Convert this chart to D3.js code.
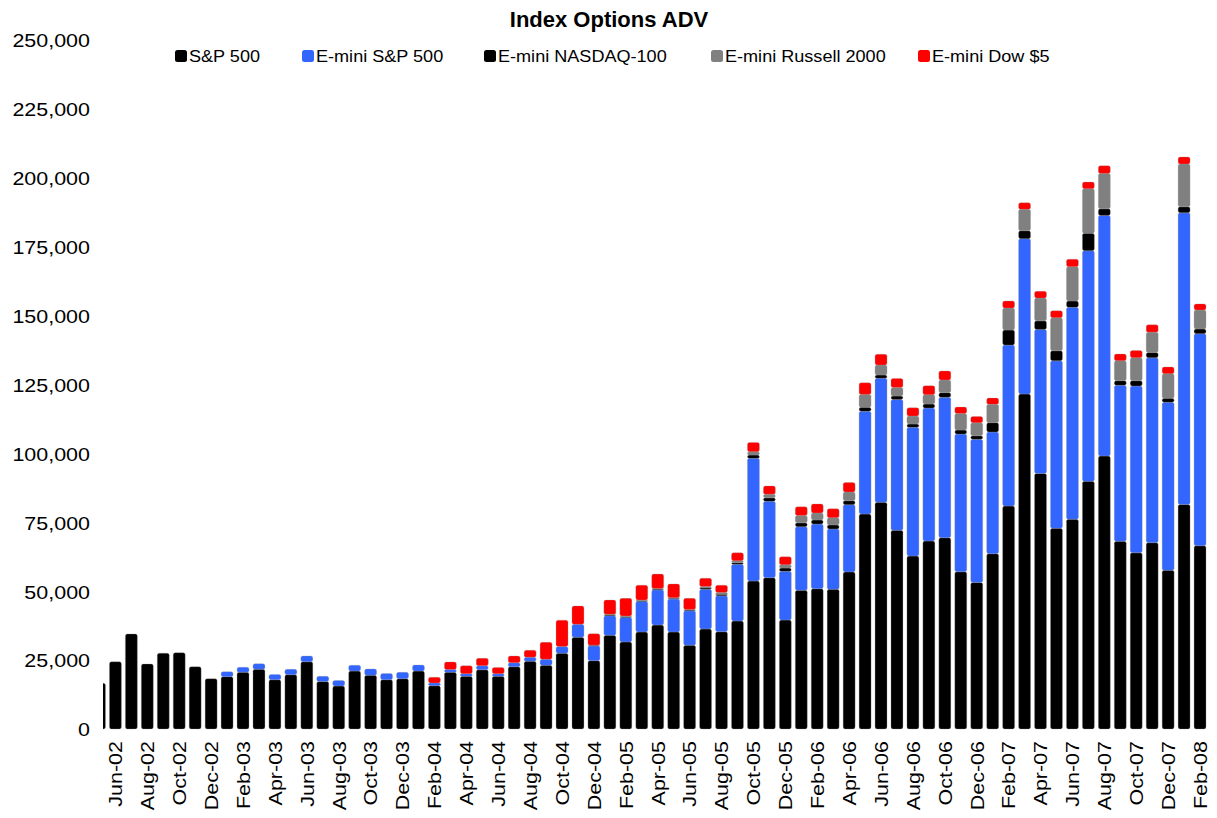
<!DOCTYPE html>
<html>
<head>
<meta charset="utf-8">
<script src="https://cdn.jsdelivr.net/npm/d3@7/dist/d3.min.js"></script>
<style>
  html, body { margin: 0; padding: 0; background: #fff; }
  svg { display: block; font-family: "Liberation Sans", Arial, Helvetica, sans-serif; }
</style>
</head>
<body>
<svg id="chart" width="1217" height="818"></svg>
<script>
// ---- data ----
const months = [
  "May-02","Jun-02","Jul-02","Aug-02","Sep-02","Oct-02","Nov-02","Dec-02",
  "Jan-03","Feb-03","Mar-03","Apr-03","May-03","Jun-03","Jul-03","Aug-03","Sep-03","Oct-03","Nov-03","Dec-03",
  "Jan-04","Feb-04","Mar-04","Apr-04","May-04","Jun-04","Jul-04","Aug-04","Sep-04","Oct-04","Nov-04","Dec-04",
  "Jan-05","Feb-05","Mar-05","Apr-05","May-05","Jun-05","Jul-05","Aug-05","Sep-05","Oct-05","Nov-05","Dec-05",
  "Jan-06","Feb-06","Mar-06","Apr-06","May-06","Jun-06","Jul-06","Aug-06","Sep-06","Oct-06","Nov-06","Dec-06",
  "Jan-07","Feb-07","Mar-07","Apr-07","May-07","Jun-07","Jul-07","Aug-07","Sep-07","Oct-07","Nov-07","Dec-07",
  "Jan-08","Feb-08"
];
const tickLabels = [
  "Jun-02","Aug-02","Oct-02","Dec-02","Feb-03","Apr-03","Jun-03","Aug-03","Oct-03","Dec-03",
  "Feb-04","Apr-04","Jun-04","Aug-04","Oct-04","Dec-04","Feb-05","Apr-05","Jun-05","Aug-05",
  "Oct-05","Dec-05","Feb-06","Apr-06","Jun-06","Aug-06","Oct-06","Dec-06","Feb-07","Apr-07",
  "Jun-07","Aug-07","Oct-07","Dec-07","Feb-08"
];
const yTicks = [0, 25000, 50000, 75000, 100000, 125000, 150000, 175000, 200000, 225000, 250000];

const sp500 = [
  16600, 24400, 34500, 23600, 27500, 27700, 22600, 18250,
  19000, 20600, 21700, 17900, 19700, 24400, 17200, 15600, 21000, 19500, 17900, 18250,
  21000, 15700, 20600, 19100, 21500, 19100, 22600, 24600, 23100, 27500, 33300, 24800,
  34000, 31600, 35200, 37700, 35200, 30400, 36300, 35300, 39200, 53700, 54900, 39550,
  50300, 50900, 50700, 57000, 78000, 82250, 72100, 62750, 68200, 69400, 57050, 53200,
  63600, 80900, 121550, 92750, 72800, 76100, 89850, 99050, 68100, 63950, 67600, 57600,
  81500, 66500
];
const eminiSP = [
  0, 0, 0, 0, 0, 0, 0, 0,
  1800, 1800, 2000, 1900, 1950, 2100, 1900, 2000, 2100, 2300, 2200, 2300,
  2200, 1000, 950, 950, 1450, 950, 1450, 1450, 2200, 2400, 4700, 5400,
  7100, 8900, 11100, 12800, 11950, 12500, 14400, 13050, 20550, 44500, 27700, 17650,
  23100, 23450, 21900, 24400, 37250, 45000, 47500, 46700, 48250, 50950, 49950, 51900,
  44150, 58400, 56350, 52250, 60800, 76900, 83700, 87300, 56600, 60500, 67100, 60950,
  105800, 76950
];
const eminiNasdaq = [
  0, 0, 0, 0, 0, 0, 0, 0,
  0, 0, 0, 0, 0, 0, 0, 0, 0, 0, 0, 0,
  0, 0, 0, 0, 0, 0, 0, 0, 0, 0, 0, 200,
  300, 300, 300, 300, 300, 300, 500, 500, 600, 1200, 1300, 1200,
  1400, 1500, 1450, 1450, 1450, 1200, 1200, 1200, 1450, 1700, 1450, 1300,
  3400, 5450, 2900, 3100, 3650, 2300, 6300, 2400, 1700, 1950, 1950, 1450,
  2200, 1700
];
const eminiRussell = [
  0, 0, 0, 0, 0, 0, 0, 0,
  0, 0, 0, 0, 0, 0, 0, 0, 0, 0, 0, 0,
  0, 0, 0, 0, 0, 0, 0, 0, 0, 0, 0, 0,
  200, 200, 200, 200, 200, 200, 500, 700, 700, 1200, 1300, 1200,
  2700, 2550, 2600, 3150, 4700, 3600, 3150, 2900, 3400, 4600, 6050, 4700,
  6650, 8000, 7750, 8250, 11950, 12450, 16200, 12850, 7250, 8350, 7350, 8900,
  15500, 6900
];
const eminiDow = [
  0, 0, 0, 0, 0, 0, 0, 0,
  0, 0, 0, 0, 0, 0, 0, 0, 0, 0, 0, 0,
  0, 2050, 2800, 2900, 2700, 2300, 2450, 2550, 6150, 9600, 6650, 4150,
  5200, 6400, 5400, 5200, 5000, 4000, 3000, 2650, 2900, 3400, 3000, 2900,
  3100, 3250, 3250, 3400, 4200, 3900, 3250, 3000, 3250, 3250, 2300, 2300,
  2300, 2550, 2400, 2450, 2550, 2700, 2400, 2750, 2400, 2550, 2650, 2450,
  2550, 2200
];
const seriesNames = ["S&P 500", "E-mini S&P 500", "E-mini NASDAQ-100", "E-mini Russell 2000", "E-mini Dow $5"];
const seriesColors = ["#000000", "#3366FF", "#000000", "#808080", "#FF0000"];

// ---- build table ----
const keys = ["sp", "esp", "enq", "eru", "edow"];
const table = months.map((m, i) => ({
  month: m, sp: sp500[i], esp: eminiSP[i], enq: eminiNasdaq[i], eru: eminiRussell[i], edow: eminiDow[i]
}));
const stacked = d3.stack().keys(keys)(table);

// ---- layout ----
const svg = d3.select("#chart");
const FONT_STRETCH = 1.13;

const x = d3.scaleBand().domain(months).range([89.5, 1210]).paddingInner(0.25).paddingOuter(0.25);
const y = d3.scaleLinear().domain([0, 250000]).range([729, 40]);

// title
svg.append("text")
  .attr("x", 609).attr("y", 27)
  .attr("text-anchor", "middle")
  .attr("font-size", "22px").attr("font-weight", "bold")
  .text("Index Options ADV");

// legend
const legendX = [175, 302, 484, 711, 918];
const legend = svg.append("g");
seriesNames.forEach((name, i) => {
  const g = legend.append("g").attr("transform", `translate(${legendX[i]},50)`);
  g.append("rect").attr("width", 12).attr("height", 12).attr("rx", 2.5)
    .attr("fill", seriesColors[i]);
  g.append("text")
    .attr("transform", `translate(14,6) scale(${FONT_STRETCH},1)`)
    .attr("dy", "0.36em")
    .attr("font-size", "16px")
    .attr("fill", "#000")
    .text(name);
});

// clip
svg.append("defs").append("clipPath").attr("id", "plotclip")
  .append("rect").attr("x", 103).attr("y", 0).attr("width", 1114).attr("height", 740);

// bars
const plot = svg.append("g").attr("clip-path", "url(#plotclip)");
stacked.forEach((layer, li) => {
  plot.append("g")
    .attr("fill", seriesColors[li])
    .selectAll("rect")
    .data(layer.filter(d => d[1] - d[0] > 0))
    .join("rect")
    .attr("x", d => x(d.data.month))
    .attr("width", x.bandwidth())
    .attr("y", d => y(d[1]))
    .attr("height", d => y(d[0]) - y(d[1]))
    .attr("rx", 2)
    .attr("stroke", "#9a9a9a")
    .attr("stroke-width", 0.5)
    .attr("stroke-opacity", 0.6);
});

// y axis
const yAxis = svg.append("g")
  .attr("transform", "translate(90,0)")
  .call(d3.axisLeft(y).tickValues(yTicks).tickFormat(d3.format(",")).tickSize(0).tickPadding(0));
yAxis.select(".domain").remove();
yAxis.selectAll("text")
  .attr("x", 0).attr("dy", "0.36em")
  .attr("transform", `scale(${FONT_STRETCH},1)`)
  .attr("font-size", "19px")
  .attr("font-family", "'Liberation Sans', Arial, sans-serif")
  .attr("fill", "#000");

// x axis
const xAxis = svg.append("g")
  .attr("transform", "translate(0,729)")
  .call(d3.axisBottom(x).tickValues(tickLabels).tickSize(0));
xAxis.select(".domain").remove();
xAxis.selectAll("text")
  .attr("x", 0).attr("y", 0).attr("dy", "0.36em")
  .attr("text-anchor", "end")
  .attr("transform", `translate(0,12) rotate(-90) scale(${FONT_STRETCH},1)`)
  .attr("font-size", "19px")
  .attr("font-family", "'Liberation Sans', Arial, sans-serif")
  .attr("fill", "#000");
</script>
</body>
</html>
